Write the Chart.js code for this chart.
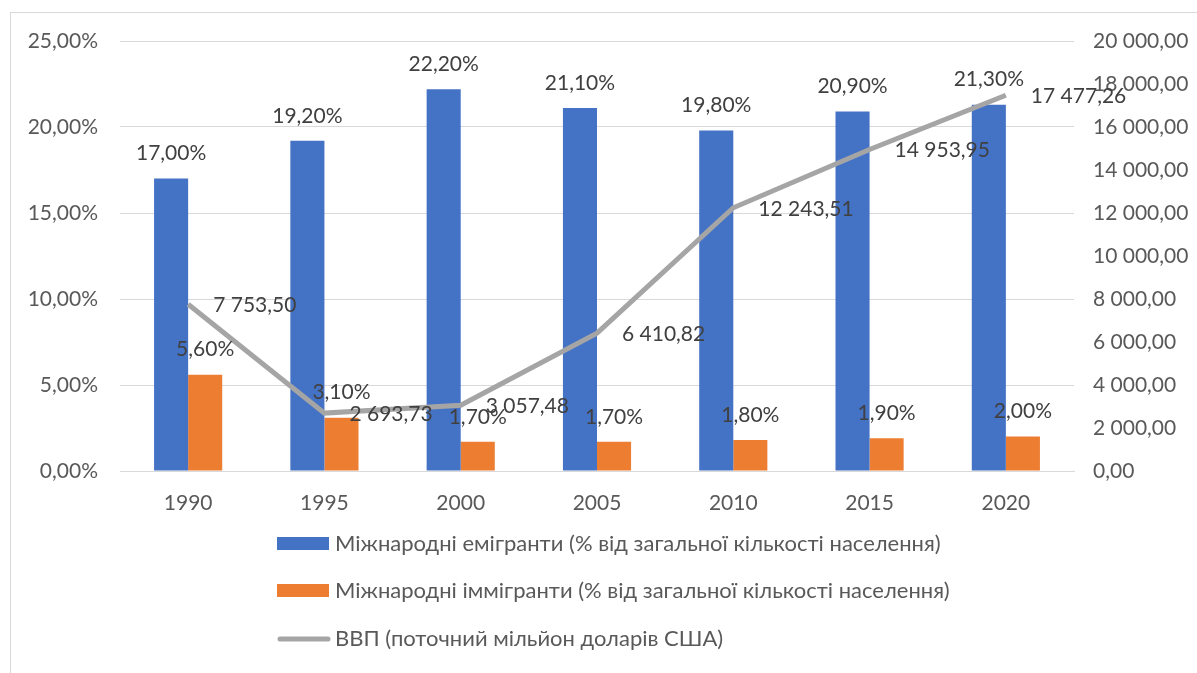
<!DOCTYPE html>
<html>
<head>
<meta charset="utf-8">
<script src="https://cdn.jsdelivr.net/npm/chart.js@4/dist/chart.umd.min.js"></script>
<style>
  body { margin: 0; background: #fff; }
  #box { position: absolute; left: 10px; top: 12px; width: 1186px; height: 660px; border: 1px solid #d9d9d9; }
</style>
</head>
<body>
<div id="box"><canvas id="chart" width="1186" height="660"></canvas></div>
<script>
const years = ['1990', '1995', '2000', '2005', '2010', '2015', '2020'];
const emigrants = [17.0, 19.2, 22.2, 21.1, 19.8, 20.9, 21.3];
const immigrants = [5.6, 3.1, 1.7, 1.7, 1.8, 1.9, 2.0];
const gdp = [7753.50, 2693.73, 3057.48, 6410.82, 12243.51, 14953.95, 17477.26];

const seriesNames = [
  'Міжнародні емігранти (% від загальної кількості населення)',
  'Міжнародні іммігранти (% від загальної кількості населення)',
  'ВВП (поточний мільйон доларів США)'
];

const FONT = 'Lato, "Open Sans", sans-serif';
const TICK_COLOR = '#595959';

function pct(v) {
  return v.toFixed(2).replace('.', ',') + '%';
}
function money(v) {
  let parts = v.toFixed(2).split('.');
  let whole = parts[0].replace(/\B(?=(\d{3})+(?!\d))/g, ' ');
  return whole + ',' + parts[1];
}

// value labels + vertical legend, drawn by hand
const labelsPlugin = {
  id: 'valueLabels',
  afterDatasetsDraw(chart) {
    let ctx = chart.ctx;
    ctx.save();
    ctx.font = '21px ' + FONT;
    ctx.fillStyle = '#404040';
    ctx.textBaseline = 'middle';
    chart.data.datasets.forEach((ds, i) => {
      let meta = chart.getDatasetMeta(i);
      meta.data.forEach((el, j) => {
        if (ds.type === 'line') {
          ctx.textAlign = 'left';
          ctx.fillText(money(ds.data[j]), el.x + 25, el.y + 1);
        } else {
          ctx.textAlign = 'center';
          ctx.fillText(pct(ds.data[j]), el.x, el.y - 25);
        }
      });
    });
    ctx.restore();
  },
  afterDraw(chart) {
    let ctx = chart.ctx;
    ctx.save();
    ctx.font = '22px ' + FONT;
    ctx.textBaseline = 'middle';
    ctx.textAlign = 'left';
    let rows = [531, 578, 626];
    chart.data.datasets.forEach((ds, i) => {
      let y = rows[i];
      if (ds.type === 'line') {
        ctx.strokeStyle = ds.borderColor;
        ctx.lineWidth = 5;
        ctx.lineCap = 'round';
        ctx.beginPath();
        ctx.moveTo(269, y);
        ctx.lineTo(317, y);
        ctx.stroke();
      } else {
        ctx.fillStyle = ds.backgroundColor;
        ctx.fillRect(266, y - 7, 52, 13);
      }
      ctx.fillStyle = TICK_COLOR;
      ctx.fillText(ds.label, 324, y);
    });
    ctx.restore();
  }
};

new Chart(document.getElementById('chart'), {
  data: {
    labels: years,
    datasets: [
      {
        type: 'bar',
        label: seriesNames[0],
        data: emigrants,
        backgroundColor: '#4472C4',
        yAxisID: 'y',
        order: 2
      },
      {
        type: 'bar',
        label: seriesNames[1],
        data: immigrants,
        backgroundColor: '#ED7D31',
        yAxisID: 'y',
        order: 2
      },
      {
        type: 'line',
        label: seriesNames[2],
        data: gdp,
        borderColor: '#A5A5A5',
        borderWidth: 5,
        pointRadius: 0,
        tension: 0,
        yAxisID: 'y1',
        order: 1
      }
    ]
  },
  options: {
    responsive: false,
    animation: false,
    layout: { padding: { top: 28, left: 0, right: 0, bottom: 142 } },
    datasets: {
      bar: { categoryPercentage: 0.5, barPercentage: 1.0 }
    },
    plugins: {
      legend: { display: false },
      tooltip: { enabled: false }
    },
    scales: {
      x: {
        grid: { display: false, drawTicks: false },
        border: { display: true, color: '#d9d9d9' },
        ticks: { color: TICK_COLOR, font: { family: FONT, size: 21 }, padding: 20 },
        afterFit(s) { s.height = 60; s.paddingLeft = 0; s.paddingRight = 0; }
      },
      y: {
        position: 'left',
        min: 0,
        max: 25,
        ticks: {
          stepSize: 5,
          color: TICK_COLOR,
          font: { family: FONT, size: 21 },
          padding: 22,
          callback: v => pct(v)
        },
        grid: { color: '#d9d9d9', drawTicks: false },
        border: { display: false },
        afterFit(s) { s.width = 109; s.paddingTop = 0; s.paddingBottom = 0; }
      },
      y1: {
        position: 'right',
        min: 0,
        max: 20000,
        ticks: {
          stepSize: 2000,
          color: TICK_COLOR,
          font: { family: FONT, size: 21 },
          padding: 19,
          callback: v => money(v)
        },
        grid: { display: false, drawTicks: false },
        border: { display: false },
        afterFit(s) { s.width = 123; s.paddingTop = 0; s.paddingBottom = 0; }
      }
    }
  },
  plugins: [labelsPlugin]
});
</script>
</body>
</html>
